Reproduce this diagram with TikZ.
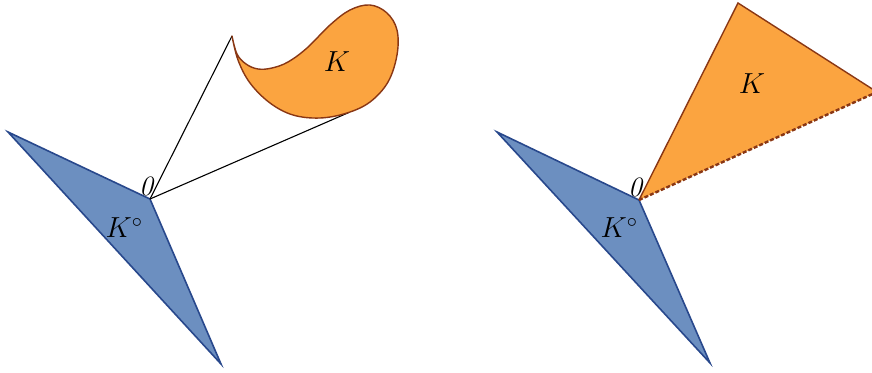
\RequirePackage{fix-cm}
\documentclass[tikz,border=0pt]{standalone}
\definecolor{bluefill}{RGB}{108,143,192}
\definecolor{blueedge}{RGB}{40,72,140}
\definecolor{orangefill}{RGB}{251,164,64}
\definecolor{orangeedge}{RGB}{138,55,20}
\tikzset{
  polar/.style={fill=bluefill, draw=blueedge, line width=1.6pt, line join=miter},
  body/.style={fill=orangefill, draw=orangeedge, line width=1.4pt, line join=round},
  ray/.style={draw=black, line width=1.1pt},
  dashedge/.style={draw=orangeedge, line width=2.4pt, dash pattern=on 4pt off 2pt},
  lbl/.style={inner sep=0pt, font=\fontsize{29}{33}\selectfont},
  zlbl/.style={inner sep=0pt, font=\fontsize{28}{32}\selectfont},
}
\begin{document}
\begin{tikzpicture}[x=1pt,y=-1pt]
\useasboundingbox (0,0) rectangle (872,372);
\clip (0,0) rectangle (872,372);
% ---------- left figure ----------
\coordinate (oL) at (150,199);
\coordinate (pA) at (8,132);
\coordinate (pB) at (221,364);
\coordinate (cusp) at (232,36);
\coordinate (tang) at (350,112);
\path[polar] (pA) -- (oL) -- (pB) -- cycle;
\draw[ray] (oL) -- (cusp);
\draw[ray] (oL) -- (tang);
\path[body] plot[smooth, tension=0.6] coordinates {
  (232,36) (237,54) (246,64) (258,69) (272,68) (288,62) (307,48)
  (330,25) (350,10) (370,5) (387,13) (397,30) (397,55) (388,82)
  (370,102) (347,113) (320,118) (293,115) (270,103) (250,83)
  (238,60) (232,36)} -- cycle;
\node[lbl] (KL) at (337,62) {$K$};
\node[zlbl] (zL) at (148,186) {$\mathit{0}$};
\node[lbl] (KpL) at (124,228) {$K^\circ$};
% ---------- right figure ----------
\coordinate (oR) at (639,200);
\coordinate (qA) at (497,132);
\coordinate (qB) at (710,363);
\coordinate (top) at (738,3);
\coordinate (corner) at (877,92);
\path[polar] (qA) -- (oR) -- (qB) -- cycle;
\fill[orangefill] (oR) -- (top) -- (corner) -- cycle;
\draw[orangeedge, line width=1.4pt] (oR) -- (top) -- (corner);
\draw[dashedge] (oR) -- (corner);
\node[lbl] (KR) at (752,84) {$K$};
\node[zlbl] (zR) at (637,187) {$\mathit{0}$};
\node[lbl] (KpR) at (619,228) {$K^\circ$};
\end{tikzpicture}
\end{document}
